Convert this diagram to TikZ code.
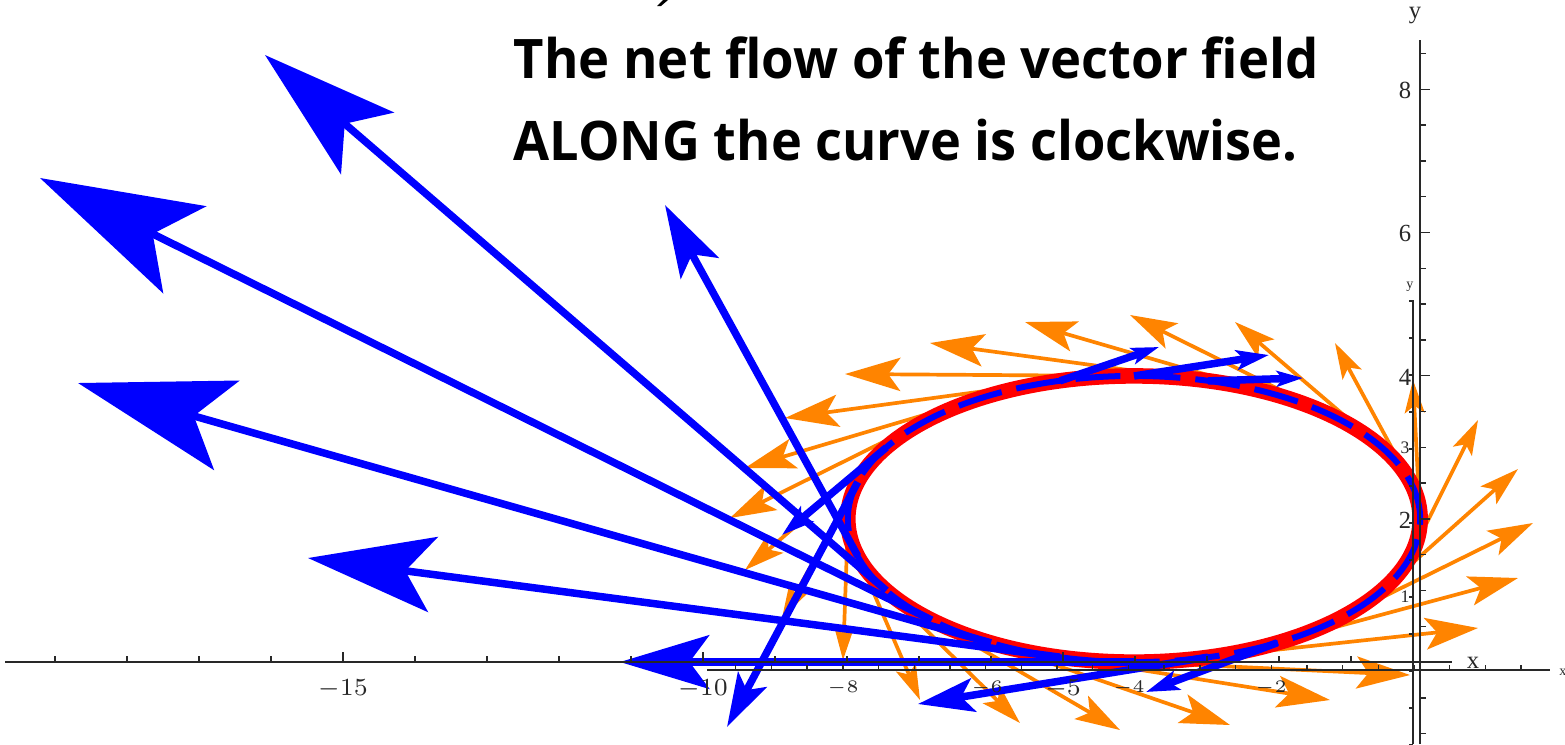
\documentclass[tikz,border=0pt]{standalone}
\usepackage{fontspec}
\setmainfont{Liberation Serif}
\newfontfamily\titlefont{Open Sans}
\usetikzlibrary{arrows.meta}
\definecolor{morange}{RGB}{255,132,0}
\definecolor{mblue}{RGB}{0,0,255}
\definecolor{mred}{RGB}{255,0,0}
\definecolor{axgray}{RGB}{40,40,40}
\newcommand\fieldvec[5]{%
  \pgfmathsetlengthmacro\hlen{(0.15*veclen((#4)-(#2),(#5)-(#3))+12)*0.01cm}%
  \pgfmathsetlengthmacro\hwid{0.6*\hlen}%
  \pgfmathsetlengthmacro\hins{0.22*\hlen}%
  \draw[#1, -{Stealth[length=\hlen, width=\hwid, inset=\hins]}] (#2,#3) -- (#4,#5);}
\begin{document}
\begin{tikzpicture}[x=0.01cm, y=-0.01cm,
  axisline/.style={line width=0.025cm, axgray},
  tickline/.style={line width=0.014cm, axgray},
  ticklab/.style={font=\fontsize{7}{8}\selectfont, text=axgray, inner sep=0},
  smalllab/.style={font=\fontsize{5}{6}\selectfont, text=axgray, inner sep=0},
  orangevec/.style={color=morange, line width=0.037cm},
  bluevec/.style={color=mblue, line width=0.075cm},
  curve/.style={mred, line width=0.155cm},
  dashcurve/.style={mblue, line width=0.06cm, dash pattern=on 0.45cm off 0.15cm},
  titletext/.style={font=\titlefont\bfseries\fontsize{15.5}{16}\selectfont, anchor=base west, inner sep=0}]
\useasboundingbox (0,0) rectangle (1565,744);
\fill[white] (0,0) rectangle (1565,744);

% orange field along the curve
\foreach \t/\px/\py in {0/1413/380, 15/1335/343, 30/1235/322, 45/1130/315, 60/1025/322,
  75/930/343, 90/845/374, 105/785/418, 120/745/468, 135/730/518, 150/745/570,
  165/782/618, 180/843/660, 195/920/700, 210/1020/723, 225/1120/730, 240/1230/725,
  255/1330/700, 270/1410/675, 285/1478/628, 300/1518/578, 315/1533/523,
  330/1518/469, 345/1478/420}{
  \pgfmathsetmacro\ax{1134+286*cos(\t)}
  \pgfmathsetmacro\ay{519-143*sin(\t)}
  \fieldvec{orangevec}{\ax}{\ay}{\px}{\py}
}

% the curve
\draw[curve] (1134,519) ellipse [x radius=2.86cm, y radius=1.43cm];
\draw[dashcurve] (1134,519) ellipse [x radius=2.86cm, y radius=1.43cm];

% blue vector field on the curve
\foreach \t/\px/\py in {75/1303/378, 90/1269/355, 105/1159/347, 150/782/535,
  165/727/727, 195/665/205, 210/265/55, 225/40/178, 240/78/383, 255/308/558,
  270/620/662, 285/918/704, 300/1146/692}{
  \pgfmathsetmacro\ax{1134+286*cos(\t)}
  \pgfmathsetmacro\ay{519-143*sin(\t)}
  \fieldvec{bluevec}{\ax}{\ay}{\px}{\py}
}

% inner axes
\draw[axisline, line width=0.018cm] (707,670) -- (1550,670);
\foreach \k in {-19,...,3}{
  \draw[tickline] ({1414+35.7*\k},670) -- ({1414+35.7*\k},665);
}
\node[smalllab, anchor=north] at (843,680) {$-8$};
\node[smalllab, anchor=north] at (987,680) {$-6$};
\node[smalllab, anchor=north] at (1129,680) {$-4$};
\node[smalllab, anchor=north] at (1271,680) {$-2$};
\node[smalllab, font=\fontsize{4}{5}\selectfont] at (1563,672) {x};
\draw[axisline, line width=0.018cm] (1413,300) -- (1413,744);
\foreach \k in {-2,...,10}{
  \draw[tickline] (1413,{671-37*\k}) -- (1409,{671-37*\k});
}
\node[smalllab, anchor=east] at (1410,448) {3};
\node[smalllab, anchor=east] at (1410,597) {1};
\node[smalllab, font=\fontsize{4}{5}\selectfont] at (1410,287) {y};

% outer axes
\draw[axisline] (5,662) -- (1452,662);
\foreach \i in {1,...,19}{
  \pgfmathsetmacro\tl{ifthenelse(mod(\i,5)==0,10,6)}
  \draw[tickline] ({1423-72*\i},662) -- ({1423-72*\i},{662-\tl});
}
\node[ticklab, anchor=north] at (343,679) {$-15$};
\node[ticklab, anchor=north] at (703,679) {$-10$};
\node[ticklab, anchor=north] at (1063,679) {$-5$};
\node[ticklab] at (1473,663) {x};
\draw[axisline] (1420,40) -- (1420,744);
\foreach \k in {-2,...,17}{
  \pgfmathsetmacro\tl{ifthenelse(mod(\k+20,4)==0,10,6)}
  \draw[tickline] (1420,{662-35.8*\k}) -- ({1420+\tl},{662-35.8*\k});
}
\node[ticklab, anchor=east] at (1412,90) {8};
\node[ticklab, anchor=east] at (1412,233) {6};
\node[ticklab, anchor=east] at (1412,377) {4};
\node[ticklab, anchor=east] at (1412,520) {2};
\node[ticklab] at (1415,15) {y};

% cut-off glyph remnant at the top edge
\fill[black] (663,0) -- (668,0) -- (661,6) -- (657,6) -- cycle;

% title
\node[titletext] (l1) at (513,78) {\scalebox{0.965}[1]{The net flow of the vector field}};
\node[titletext] (l2) at (513,160) {\scalebox{0.96}[1]{ALONG the curve is clockwise.}};
\end{tikzpicture}
\end{document}
